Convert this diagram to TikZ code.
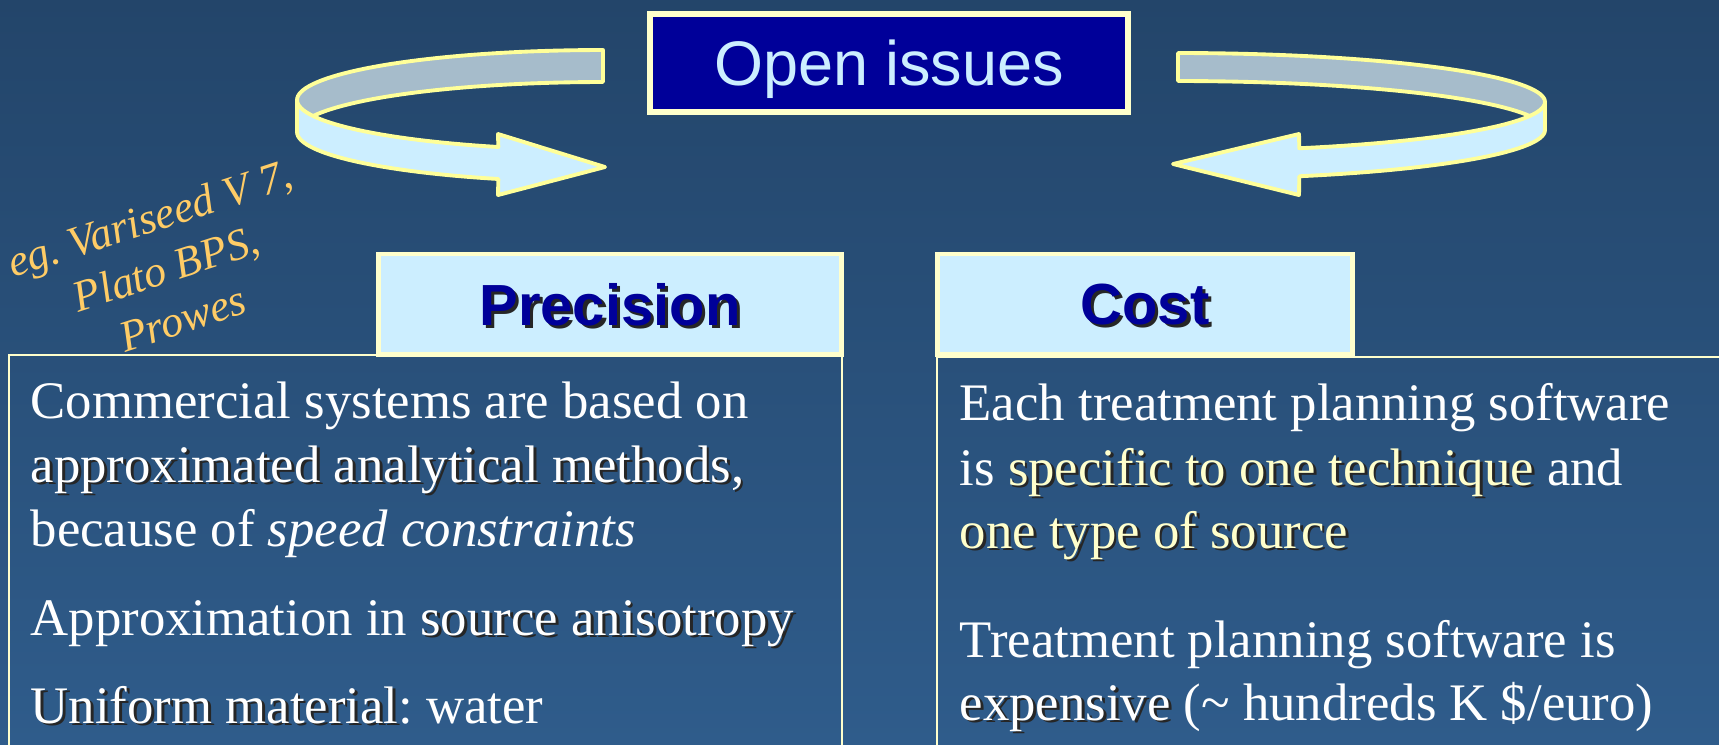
\documentclass[tikz,border=0pt]{standalone}
\usepackage{fontspec}
\setmainfont{Liberation Serif}
\setsansfont{Liberation Sans}
\frenchspacing

\definecolor{bgtop}{HTML}{23456A}
\definecolor{bgbottom}{HTML}{2F5C8B}
\definecolor{titleblue}{HTML}{000099}
\definecolor{paleblue}{HTML}{CCEEFF}
\definecolor{cream}{HTML}{FFFFCC}
\definecolor{rimyellow}{HTML}{FFFF99}
\definecolor{ribbongrey}{HTML}{A6BCCB}
\definecolor{noteorange}{HTML}{FFCC66}

\newcommand{\shadowed}[1]{\leavevmode\rlap{\kern.055em\raisebox{-.055em}{\color{black!85}#1}}#1}

\tikzset{
	headbox/.style = {draw = cream,
					  line width = 1.4pt,
					  fill = paleblue,
					  minimum height = 1.0cm,
					  inner sep = 0pt,
					  text depth = 0pt,
					  text = titleblue,
					  font = \sffamily\bfseries\fontsize{16.5}{20}\selectfont},
	bodyline/.style = {anchor = base west,
					   inner sep = 0pt,
					   text = white,
					   font = \fontsize{15}{18}\selectfont},
	ribbonrim/.style = {draw = rimyellow,
						line width = 1.1pt,
						line join = round},
	frame/.style = {draw = cream,
					line width = 0.5pt}
}

\begin{document}
\begin{tikzpicture}[x = 0.01cm, y = -0.01cm]

	\useasboundingbox (0,0) rectangle (1719,744);
	\shade[top color = bgtop, bottom color = bgbottom] (0,0) rectangle (1719,744);

	% left ribbon
	\draw[ribbonrim, fill = ribbongrey]
		plot[domain = 270:180, samples = 40] ({603+306*cos(\x)}, {100+50*sin(\x)})
		-- plot[domain = 180:270, samples = 40] ({603+306*cos(\x)}, {132+50*sin(\x)})
		-- cycle;
	\draw[ribbonrim, fill = paleblue]
		plot[domain = 180:110, samples = 30] ({603+306*cos(\x)}, {100+50*sin(\x)})
		-- (498,134) -- (605,167) -- (498,195)
		-- plot[domain = 110:180, samples = 30] ({603+306*cos(\x)}, {132+50*sin(\x)})
		-- cycle;

	% right ribbon
	\draw[ribbonrim, fill = ribbongrey]
		plot[domain = 270:360, samples = 40] ({1178+367*cos(\x)}, {102+49*sin(\x)})
		-- plot[domain = 360:270, samples = 40] ({1178+367*cos(\x)}, {130+49*sin(\x)})
		-- cycle;
	\draw[ribbonrim, fill = paleblue]
		plot[domain = 0:70.7, samples = 30] ({1178+367*cos(\x)}, {102+49*sin(\x)})
		-- (1299,134) -- (1173,164) -- (1299,195)
		-- plot[domain = 70.7:0, samples = 30] ({1178+367*cos(\x)}, {130+49*sin(\x)})
		-- cycle;

	\draw (889,63) node[draw = cream,
						line width = 1.8pt,
						fill = titleblue,
						minimum width = 4.78cm,
						minimum height = 0.98cm,
						text depth = 0pt,
						text = paleblue,
						font = \sffamily\fontsize{17.9}{20}\selectfont] (title) {Open issues};

	% content frames
	\draw[frame] (9,355) rectangle (842,760);
	\draw[frame] (937,357) rectangle (1730,760);

	\draw (610,304) node[headbox,
						 minimum width = 4.63cm] (precision) {\shadowed{Precision}};

	\draw (1145,304) node[headbox,
						  minimum width = 4.14cm] (cost) {\shadowed{Cost}};

	\draw (166,268) node[rotate = 18,
						 align = center,
						 text = noteorange,
						 font = \itshape\fontsize{12.5}{15}\selectfont] (examples) {eg. Variseed V 7,\\Plato BPS,\\Prowes};

	% precision text
	\draw (30,418) node[bodyline] (prec1) {Commercial systems are based on};
	\draw (30,482) node[bodyline] (prec2) {\shadowed{approximated analytical methods,}};
	\draw (30,546) node[bodyline] (prec3) {because of \textit{speed constraints}};
	\draw (30,635) node[bodyline] (prec4) {Approximation in \shadowed{source anisotropy}};
	\draw (30,723) node[bodyline] (prec5) {\shadowed{Uniform material}: water};

	% cost text
	\draw (959,420) node[bodyline] (cost1) {Each treatment planning software};
	\draw (959,485) node[bodyline] (cost2) {is \textcolor{cream}{\shadowed{specific to one technique}} and};
	\draw (959,548) node[bodyline] (cost3) {\textcolor{cream}{\shadowed{one type of source}}};
	\draw (959,657) node[bodyline] (cost4) {Treatment planning software is};
	\draw (959,720) node[bodyline] (cost5) {\shadowed{expensive} (\textasciitilde{} hundreds K \$/euro)};

\end{tikzpicture}
\end{document}
